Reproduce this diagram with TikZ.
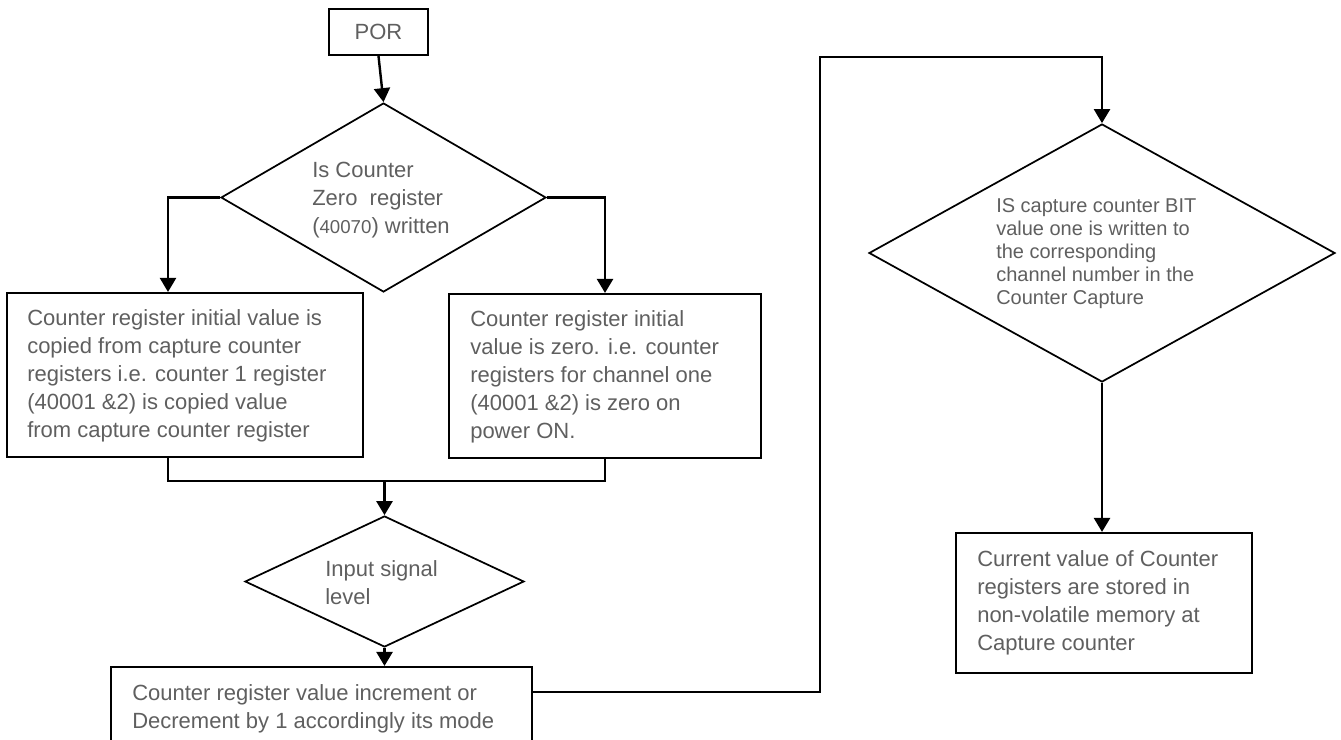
\documentclass[tikz,border=0pt]{standalone}
\usepackage{fontspec}
\setmainfont{Liberation Sans}
\usetikzlibrary{shapes.geometric,arrows.meta}
\definecolor{txt}{RGB}{95,95,95}
\begin{document}
\begin{tikzpicture}[x=0.75pt,y=-0.75pt,
  sz/.style 2 args={minimum width=#1*0.75pt,minimum height=#2*0.75pt},
  box/.style={draw=black,line width=1.6pt,rectangle,inner sep=0pt},
  dia/.style={draw=black,line width=1.3pt,diamond,inner sep=0pt},
  arr/.style={line width=1.8pt,-{Triangle[width=12pt,length=10.5pt]}},
  con/.style={line width=1.8pt},
  lbl/.style={text=txt,anchor=north west,inner sep=0pt,align=left,font=\fontsize{16.5}{21}\selectfont},
  lbls/.style={text=txt,anchor=north west,inner sep=0pt,align=left,font=\fontsize{15}{17.25}\selectfont}]
\useasboundingbox (0,0) rectangle (1341,739);
\clip (0,0) rectangle (1341,739);

% shapes
\node[box,sz={99}{46},text=txt,font=\fontsize{16.5}{21}\selectfont] (por) at (378.5,32) {POR};
\node[dia,sz={325}{189}] (d1) at (383.5,197.5) {};
\node[box,sz={356}{164}] (lb) at (185,375) {};
\node[box,sz={312}{164}] (rb) at (605,376) {};
\node[dia,sz={279}{131}] (d2) at (384.5,581.5) {};
\node[box,sz={421}{110}] (bb) at (321.5,722) {};
\node[dia,sz={466}{258}] (d3) at (1102,253) {};
\node[box,sz={296}{140}] (cb) at (1104,603) {};

% helper coordinates
\coordinate (lbin) at ([xshift=-12.75pt]lb.north);
\coordinate (lbout) at ([xshift=-12.75pt]lb.south);
\coordinate (mj) at ([yshift=25.5pt]d2.north);
\coordinate (bbout) at ([yshift=-19.5pt]bb.north east);
\coordinate (c1) at (820,57);

% connectors
\draw[arr] (por.south) -- (d1.north);
\draw[arr] (d1.west) -| (lbin);
\draw[arr] (d1.east) -| (rb.north);
\draw[con] (lbout) |- (mj) -| (rb.south);
\draw[arr] (mj) -- (d2.north);
\draw[arr] (d2.south) -- (d2.south |- bb.north);
\draw[arr] (bbout) -| (c1) -| (d3.north);
\draw[arr] (d3.south) -- (d3.south |- cb.north);

% texts
\node[lbl] (tlb) at (27,309) {Counter register initial value is\\copied from capture counter\\registers i.e. counter 1 register\\(40001 \&2) is copied value\\from capture counter register};
\node[lbl] (trb) at (470,310) {Counter register initial\\value is zero. i.e. counter\\registers for channel one\\(40001 \&2) is zero on\\power ON.};
\node[lbl] (td1) at (312,162) {Is Counter\\Zero~ register\\({\fontsize{14}{21}\selectfont 40070}) written};
\node[lbl] (td2) at (325,560) {Input signal\\level};
\node[lbl] (tbb) at (132,684) {Counter register value increment or\\Decrement by 1 accordingly its mode};
\node[lbls] (td3) at (996,198) {IS capture counter BIT\\value one is written to\\the corresponding\\channel number in the\\Counter Capture};
\node[lbl] (tcb) at (977,550) {Current value of Counter\\registers are stored in\\non-volatile memory at\\Capture counter};
\end{tikzpicture}
\end{document}
